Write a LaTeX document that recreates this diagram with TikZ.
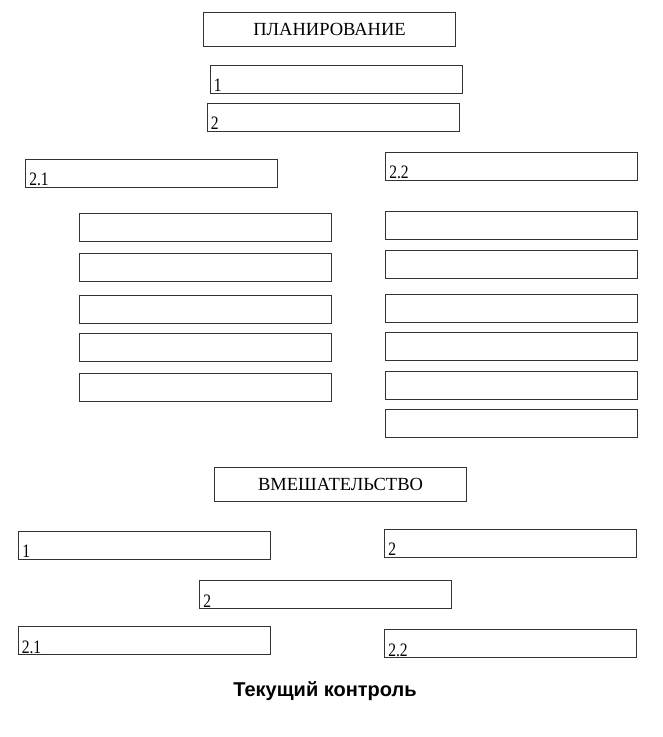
\documentclass[tikz,border=0pt]{standalone}
\usepackage{fontspec}
\setmainfont{Liberation Serif}
\newfontfamily\titlefont{Liberation Sans}
\newfontfamily\numfont[FakeStretch=0.82]{Liberation Serif}
\usepackage{xcolor}
\usetikzlibrary{positioning,calc}
\newcommand{\boxw}{252pt}
\newcommand{\boxh}{28pt}
\colorlet{framegray}{black!80}
\tikzset{
    fieldsty/.style={draw=framegray,line width=0.9pt,rectangle,minimum width=\boxw,minimum height=\boxh,inner sep=0pt},
    headsty/.style={fieldsty,minimum height=34pt,font=\fontsize{18.5}{21}\selectfont},
    numsty/.style={anchor=base west,inner sep=0pt,xshift=4pt,yshift=1.5pt,font=\numfont\fontsize{19}{21}\selectfont},
    titlesty/.style={anchor=base,inner sep=0pt,font=\titlefont\bfseries\fontsize{20}{24}\selectfont},
}

\begin{document}
\begin{tikzpicture}[x=1pt,y=-1pt]
  \useasboundingbox (0,0) rectangle (662,737);

  \node[headsty] (plan) at (329.5,29) {ПЛАНИРОВАНИЕ};
  \node[fieldsty] (plana) at (336,79) {};
  \node[fieldsty] (planb) at (333,117) {};
  \node[fieldsty] (planba) at (151.5,173) {};
  \node[fieldsty] (planbb) at (511.5,166) {};
  \node[numsty] (plananum) at (plana.south west) {1};
  \node[numsty] (planbnum) at (planb.south west) {2};
  \node[numsty] (planbanum) at (planba.south west) {2.1};
  \node[numsty] (planbbnum) at (planbb.south west) {2.2};

  \node[fieldsty] (lefta) at (205,227) {};
  \node[fieldsty] (leftb) at (205,267) {};
  \node[fieldsty] (leftc) at (205,309) {};
  \node[fieldsty] (leftd) at (205,347.5) {};
  \node[fieldsty] (lefte) at (205,387.5) {};

  \node[fieldsty] (righta) at (511,225) {};
  \node[fieldsty] (rightb) at (511,264) {};
  \node[fieldsty] (rightc) at (511,308) {};
  \node[fieldsty] (rightd) at (511,346) {};
  \node[fieldsty] (righte) at (511,385.5) {};
  \node[fieldsty] (rightf) at (511,423) {};

  \node[headsty] (intv) at (340.5,484.5) {ВМЕШАТЕЛЬСТВО};
  \node[fieldsty] (intva) at (144.5,545) {};
  \node[fieldsty] (intvb) at (510.5,543) {};
  \node[fieldsty] (intvc) at (325.5,594.5) {};
  \node[fieldsty] (intvca) at (144,640.5) {};
  \node[fieldsty] (intvcb) at (510.5,643.5) {};
  \node[numsty] (intvanum) at (intva.south west) {1};
  \node[numsty] (intvbnum) at (intvb.south west) {2};
  \node[numsty] (intvcnum) at (intvc.south west) {2};
  \node[numsty] (intvcanum) at (intvca.south west) {2.1};
  \node[numsty] (intvcbnum) at (intvcb.south west) {2.2};

  \node[titlesty] (ctrl) at (325,696) {Текущий контроль};
\end{tikzpicture}
\end{document}
